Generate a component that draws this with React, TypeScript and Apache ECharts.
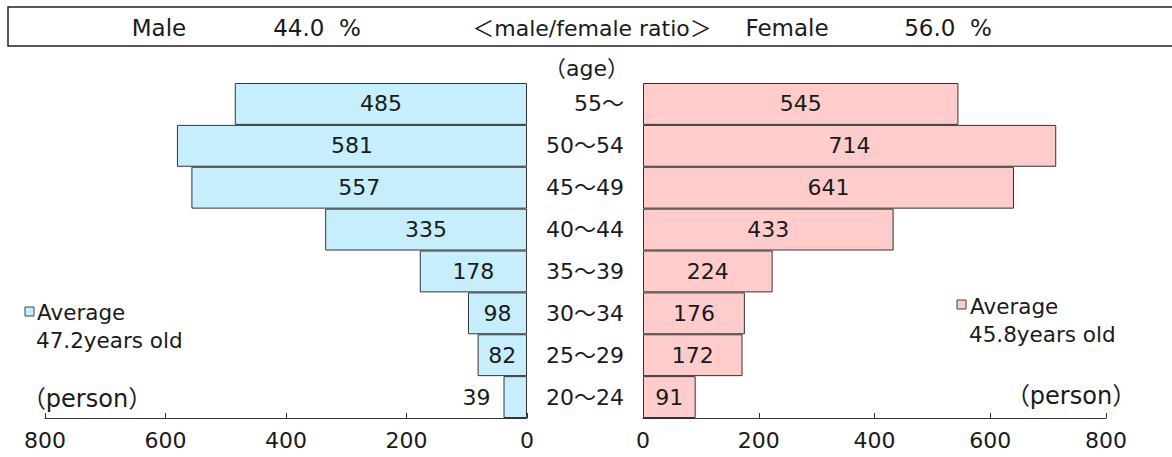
import React, { useEffect, useRef } from "react";
import * as echarts from "echarts";

const ageGroups = ["55～", "50～54", "45～49", "40～44", "35～39", "30～34", "25～29", "20～24"];
const maleCounts = [485, 581, 557, 335, 178, 98, 82, 39];
const femaleCounts = [545, 714, 641, 433, 224, 176, 172, 91];
const outsideLabelAges = ["20～24"];

const FONT = "'DejaVu Sans', 'Noto Sans CJK JP', sans-serif";
const TXT = "#1a1a1a";

export default function App() {
  const ref = useRef<HTMLDivElement>(null);
  useEffect(() => {
    if (!ref.current) return;
    const chart = echarts.init(ref.current, undefined, { renderer: "svg" });

    const maleData = maleCounts.map((v, i) =>
      outsideLabelAges.includes(ageGroups[i])
        ? { value: v, label: { position: "left", distance: 13 } }
        : { value: v }
    );

    const xAxisCommon = {
      type: "value",
      min: 0,
      max: 800,
      interval: 200,
      splitLine: { show: false },
      axisLine: { show: true, onZero: false, lineStyle: { color: "#333", width: 1 } },
      axisTick: { show: true, inside: true, length: 5, lineStyle: { color: "#333" } },
      axisLabel: { fontSize: 22, color: TXT, fontFamily: FONT, margin: 11 },
    };

    const barLabel = {
      show: true,
      position: "inside",
      fontSize: 22,
      color: TXT,
      fontFamily: FONT,
    };

    const text = (x: number, y: number, t: string, align: string, size = 22) => ({
      type: "text",
      x,
      y,
      style: {
        text: t,
        fontSize: size,
        fontFamily: FONT,
        fill: TXT,
        textAlign: align,
        textVerticalAlign: "middle",
      },
    });

    chart.setOption({
      animation: false,
      backgroundColor: "#fff",
      grid: [
        { left: 45, top: 83, width: 482, height: 335 },
        { left: 643, top: 83, width: 463, height: 335 },
      ],
      xAxis: [
        { ...xAxisCommon, gridIndex: 0, inverse: true },
        { ...xAxisCommon, gridIndex: 1 },
      ],
      yAxis: [
        {
          type: "category",
          gridIndex: 0,
          data: ageGroups,
          inverse: true,
          axisLine: { show: false },
          axisTick: { show: false },
          axisLabel: { show: false },
        },
        {
          type: "category",
          gridIndex: 1,
          data: ageGroups,
          inverse: true,
          axisLine: { show: false },
          axisTick: { show: false },
          axisLabel: { show: true, fontSize: 22, color: TXT, fontFamily: FONT, margin: 19 },
        },
      ],
      series: [
        {
          type: "bar",
          xAxisIndex: 0,
          yAxisIndex: 0,
          data: maleData,
          barCategoryGap: "0%",
          itemStyle: { color: "#C6EEFC", borderColor: "#333", borderWidth: 1 },
          label: barLabel,
        },
        {
          type: "bar",
          xAxisIndex: 1,
          yAxisIndex: 1,
          data: femaleCounts,
          barCategoryGap: "0%",
          itemStyle: { color: "#FFCCCC", borderColor: "#333", borderWidth: 1 },
          label: barLabel,
        },
      ],
      graphic: [
        {
          type: "rect",
          shape: { x: 8, y: 7, width: 1180, height: 39 },
          style: { fill: "none", stroke: "#222", lineWidth: 1.5 },
        },
        text(159, 28, "Male", "center", 23),
        text(317, 28, "44.0\u00a0\u00a0%", "center", 23),
        text(592, 28, "＜male/female ratio＞", "center", 22),
        text(787, 28, "Female", "center", 23),
        text(948, 28, "56.0\u00a0\u00a0%", "center", 23),
        text(629, 68, "（age）", "right", 22),
        {
          type: "rect",
          shape: { x: 25, y: 307, width: 9, height: 9 },
          style: { fill: "#C6EEFC", stroke: "#444", lineWidth: 1 },
        },
        text(37, 312, "Average", "left", 21.5),
        text(36, 340, "47.2years old", "left", 21.5),
        text(87, 399, "（person）", "center", 24),
        {
          type: "rect",
          shape: { x: 957, y: 300, width: 9, height: 9 },
          style: { fill: "#FFCCCC", stroke: "#444", lineWidth: 1 },
        },
        text(970, 306, "Average", "left", 21.5),
        text(969, 334, "45.8years old", "left", 21.5),
        text(1071, 396, "（person）", "center", 24),
      ],
    });
    return () => chart.dispose();
  }, []);
  return (
    <div
      ref={ref}
      style={{ position: "fixed", left: 0, top: 0, width: 1172, height: 457 }}
    />
  );
}
